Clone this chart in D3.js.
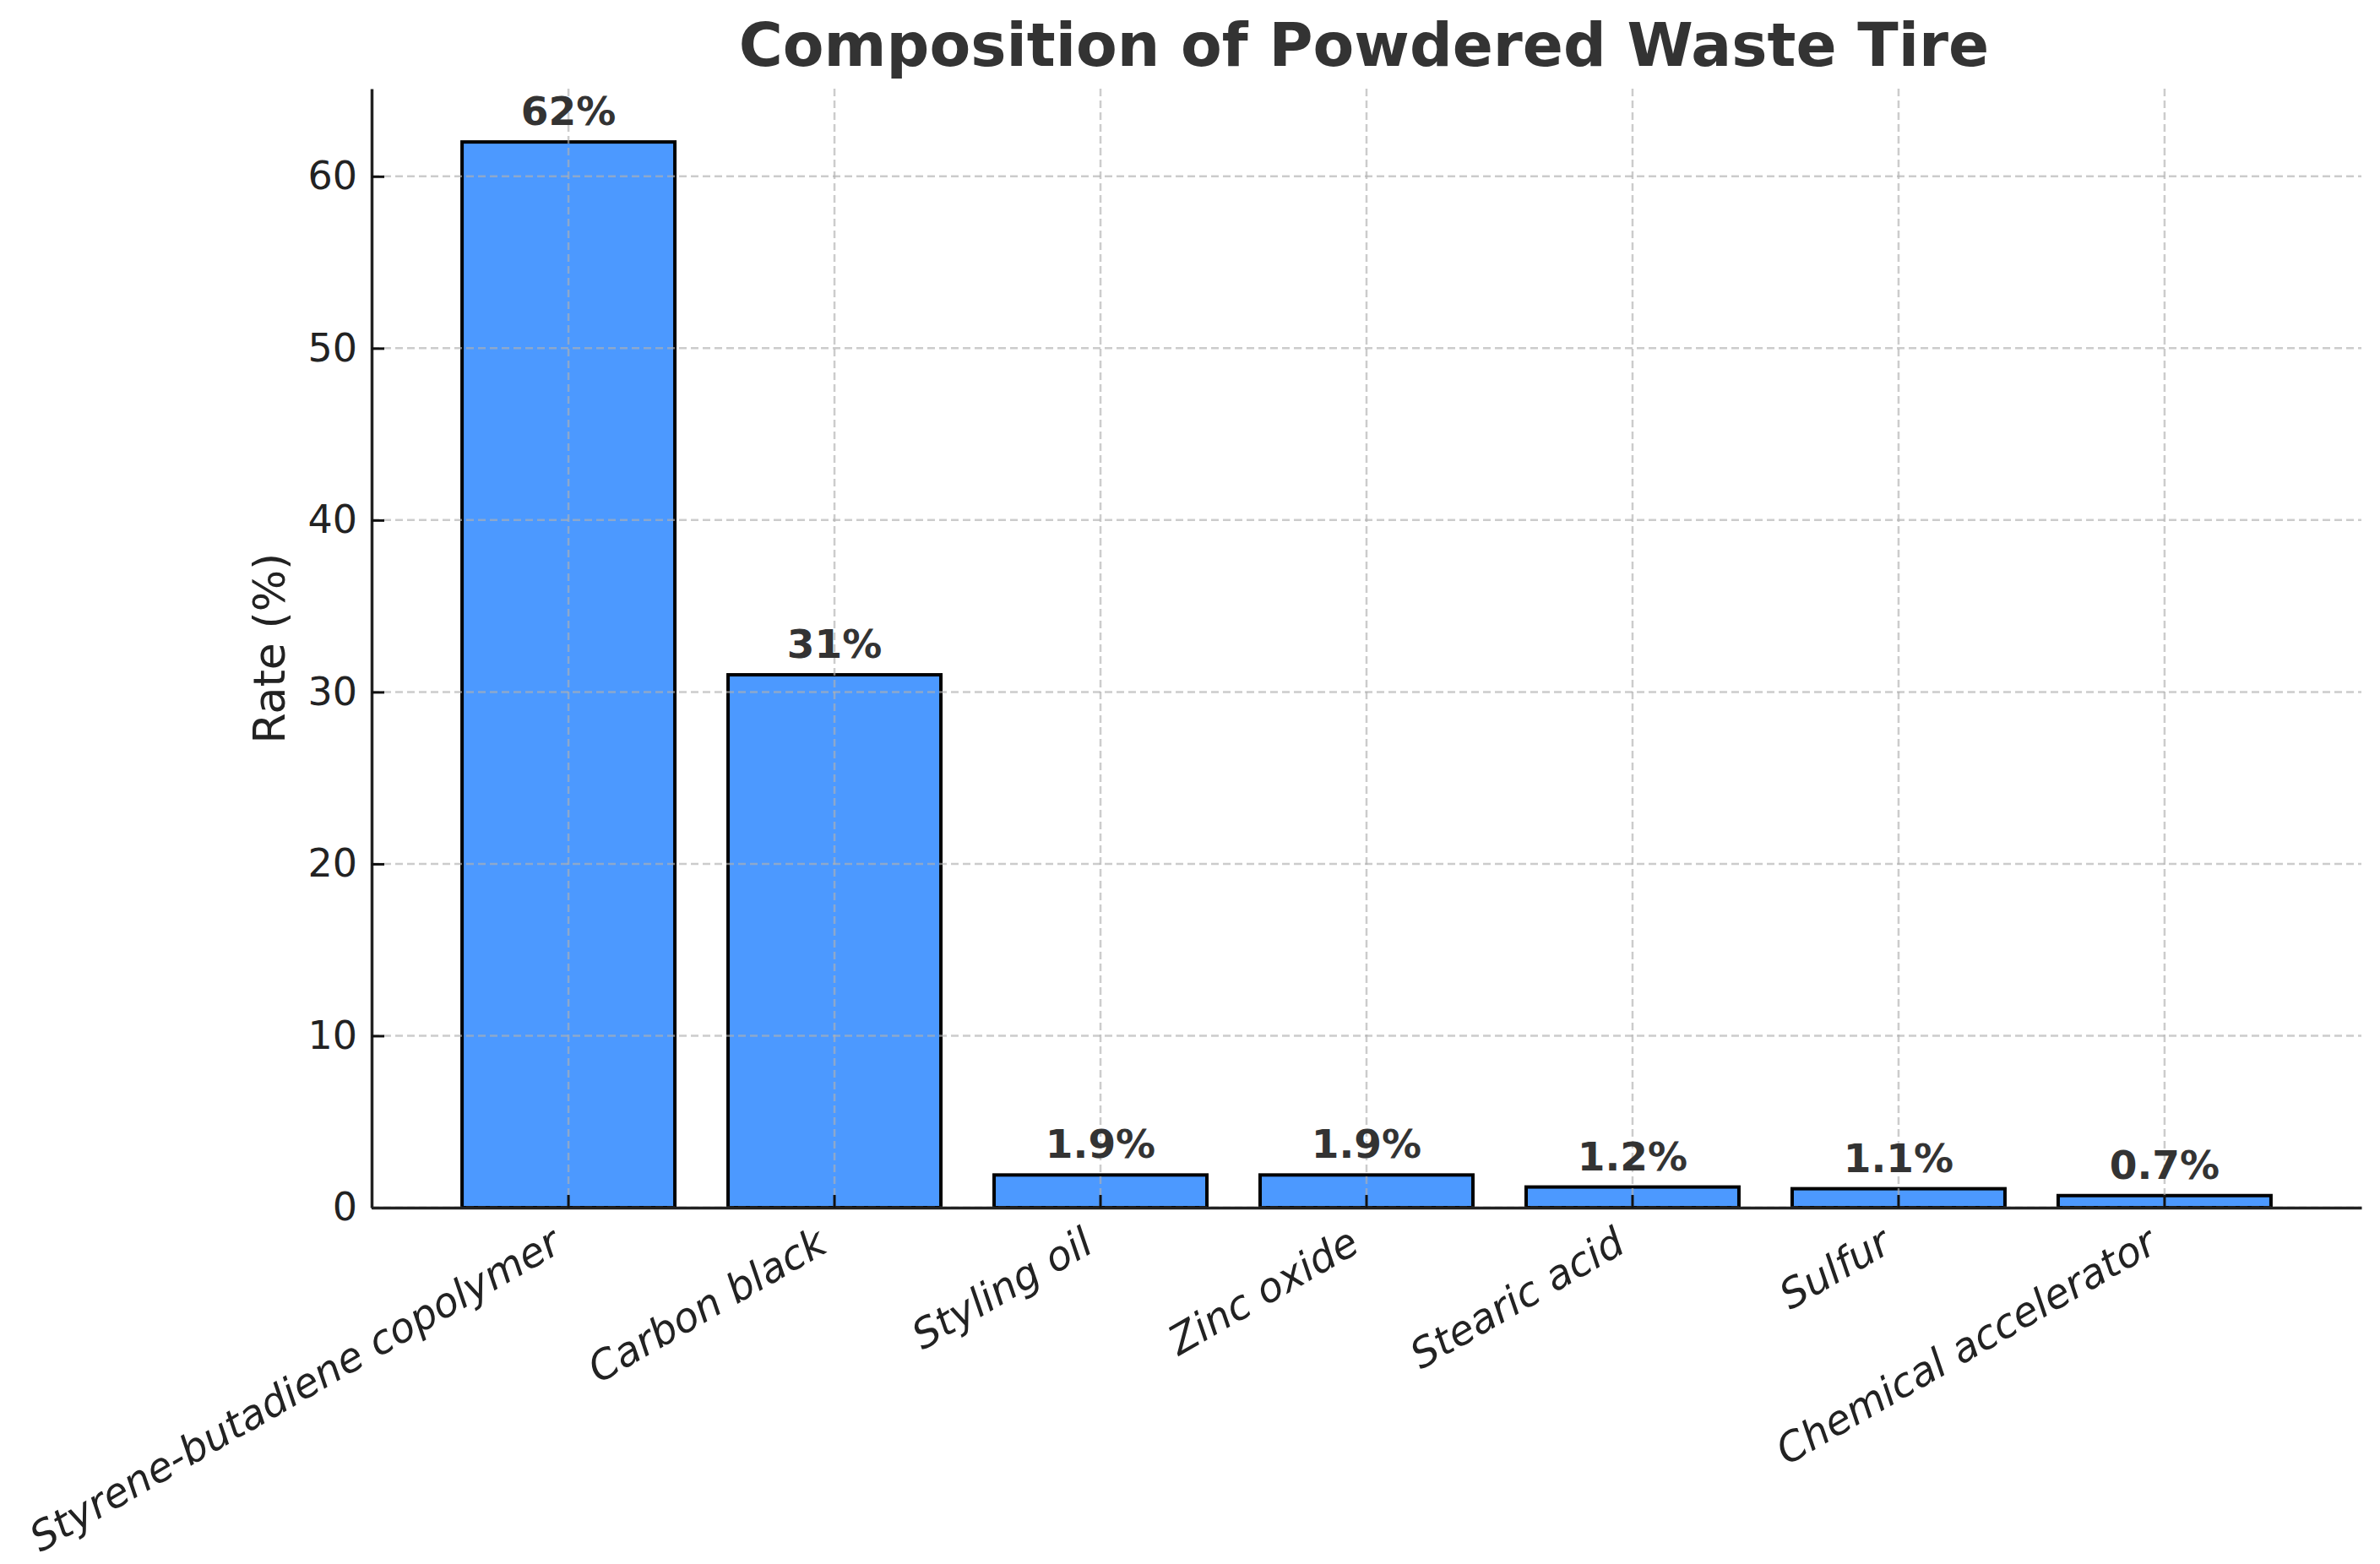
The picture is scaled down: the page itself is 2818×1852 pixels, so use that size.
<!DOCTYPE html>
<html>
<head>
<meta charset="utf-8">
<script src="https://cdn.jsdelivr.net/npm/d3@7"></script>
<style>
  body { margin: 0; background: #fff; }
  text { font-family: "DejaVu Sans", sans-serif; }
</style>
</head>
<body>
<div class="svg-div"></div>
<script>
// data
var categories = ["Styrene-butadiene copolymer", "Carbon black", "Styling oil", "Zinc oxide", "Stearic acid", "Sulfur", "Chemical accelerator"]
var rates = [62, 31, 1.9, 1.9, 1.2, 1.1, 0.7]
var rateLabels = ["62%", "31%", "1.9%", "1.9%", "1.2%", "1.1%", "0.7%"]
var yTicks = [0, 10, 20, 30, 40, 50, 60]
var titleText = "Composition of Powdered Waste Tire"
var yLabelText = "Rate (%)"

var svgWidth = 2818
var svgHeight = 1852
var plotLeft = 440, plotRight = 2796, plotTop = 105, plotBottom = 1430

var svg = d3.select(".svg-div").append("svg")
    .attr("width", svgWidth)
    .attr("height", svgHeight)
svg.append("rect").attr("width", svgWidth).attr("height", svgHeight).attr("fill", "#fff")

let xScale = d3.scaleBand()
    .domain(categories)
    .range([plotLeft, plotRight])
    .paddingInner(0.2)
    .paddingOuter(0.34)

let yScale = d3.scaleLinear()
    .domain([0, d3.max(rates) * 1.05])
    .range([plotBottom, plotTop])

// bars
svg.append("g").attr("class", "g-rect")
    .selectAll("rect")
    .data(categories)
    .join("rect")
    .attr("x", d => xScale(d))
    .attr("y", (d, i) => yScale(rates[i]))
    .attr("width", xScale.bandwidth())
    .attr("height", (d, i) => yScale(0) - yScale(rates[i]))
    .attr("fill", "#4c99ff")
    .attr("stroke", "#000")
    .attr("stroke-width", 4)

// grid on top of bars
let gGrid = svg.append("g").attr("class", "g-grid")
    .attr("stroke", "#b0b0b0")
    .attr("stroke-opacity", 0.65)
    .attr("stroke-width", 2.5)
    .attr("stroke-dasharray", "9,5")
gGrid.selectAll(".hgrid")
    .data(yTicks)
    .join("line")
    .attr("class", "hgrid")
    .attr("x1", plotLeft).attr("x2", plotRight)
    .attr("y1", d => yScale(d)).attr("y2", d => yScale(d))
gGrid.selectAll(".vgrid")
    .data(categories)
    .join("line")
    .attr("class", "vgrid")
    .attr("x1", d => xScale(d) + xScale.bandwidth() / 2)
    .attr("x2", d => xScale(d) + xScale.bandwidth() / 2)
    .attr("y1", plotTop).attr("y2", plotBottom)

// axes
let yAxis = d3.axisLeft(yScale)
    .tickValues(yTicks)
    .tickSize(-15)
    .tickSizeOuter(0)
    .tickPadding(17)
let gyAxis = svg.append("g")
    .attr("class", "g-yaxis")
    .attr("transform", "translate(" + plotLeft + ",0)")
    .call(yAxis)

let xAxis = d3.axisBottom(xScale)
    .tickSize(-15)
    .tickSizeOuter(0)
let gxAxis = svg.append("g")
    .attr("class", "g-xaxis")
    .attr("transform", "translate(0," + plotBottom + ")")
    .call(xAxis)

svg.selectAll(".g-xaxis path, .g-yaxis path").attr("stroke", "#222").attr("stroke-width", 3.5)
svg.selectAll(".g-xaxis line, .g-yaxis line").attr("stroke", "#111").attr("stroke-width", 3)
gyAxis.selectAll("text")
    .attr("font-size", 46)
    .attr("fill", "#222")
    .attr("font-family", "DejaVu Sans")
gxAxis.selectAll("text")
    .attr("font-size", 48)
    .attr("fill", "#222")
    .attr("font-family", "DejaVu Sans")
    .attr("font-style", "italic")
    .attr("text-anchor", "end")
    .attr("x", 0).attr("y", 0).attr("dy", 0)
    .attr("transform", "translate(-6,51) rotate(-30)")

// value labels
svg.append("g").attr("class", "g-values")
    .selectAll("text")
    .data(categories)
    .join("text")
    .attr("x", d => xScale(d) + xScale.bandwidth() / 2)
    .attr("y", (d, i) => yScale(rates[i]) - 20)
    .attr("text-anchor", "middle")
    .attr("font-size", 47)
    .attr("font-weight", "bold")
    .attr("fill", "#333")
    .text((d, i) => rateLabels[i])

// title and axis label
svg.append("text")
    .attr("x", 1615)
    .attr("y", 78)
    .attr("text-anchor", "middle")
    .attr("font-size", 71)
    .attr("font-weight", "bold")
    .attr("fill", "#333")
    .text(titleText)

svg.append("text")
    .attr("transform", "translate(337," + (plotTop + plotBottom) / 2 + ") rotate(-90)")
    .attr("text-anchor", "middle")
    .attr("font-size", 52)
    .attr("fill", "#222")
    .text(yLabelText)
</script>
</body>
</html>
